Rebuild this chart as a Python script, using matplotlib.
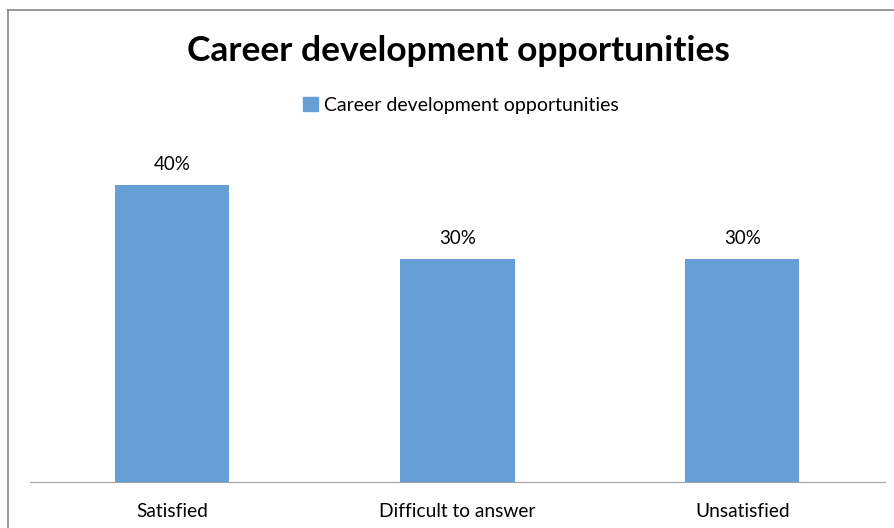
import matplotlib.pyplot as plt
from matplotlib.lines import Line2D
from matplotlib.patches import Patch

# data
categories = ["Satisfied", "Difficult to answer", "Unsatisfied"]
values = [0.40, 0.30, 0.30]
series_name = "Career development opportunities"

plt.rcParams['font.family'] = ['Lato', 'DejaVu Sans']
bar_color = "#659FD6"

fig = plt.figure(figsize=(8.95, 5.28), dpi=100)
ax = fig.add_axes([30/895, 46/528, 855/895, 334/528])

x = range(len(categories))
bars = ax.bar(x, values, width=0.4, color=bar_color)
ax.bar_label(bars, labels=[f"{v:.0%}" for v in values], padding=9, fontsize=13.5)

ax.set_xlim(-0.5, len(categories) - 0.5)
ax.set_ylim(0, 0.45)
ax.set_xticks(list(x))
ax.set_xticklabels(categories, fontsize=13.8)
ax.tick_params(axis='x', length=0, pad=15)
ax.set_yticks([])
for s in ['top', 'right', 'left']:
    ax.spines[s].set_visible(False)
ax.spines['bottom'].set_color('#A0A0A0')

fig.text(458/895, 1 - 51/528, "Career development opportunities",
         ha='center', va='center', fontsize=25.5, fontweight='bold')

leg = fig.legend(handles=[Patch(color=bar_color, label=series_name)],
                 loc='center', bbox_to_anchor=(461/895, 1 - 105/528),
                 frameon=False, fontsize=14, handlelength=0.75, handleheight=0.75,
                 handletextpad=0.35)

# outer chart border (cropped at right and bottom)
fig.add_artist(Line2D([8/895, 8/895], [0, 1 - 10/528], color='#888888', lw=1.2,
                      transform=fig.transFigure))
fig.add_artist(Line2D([8/895, 1], [1 - 10/528, 1 - 10/528], color='#888888', lw=1.2,
                      transform=fig.transFigure))

fig.savefig("out.png", dpi=100)
